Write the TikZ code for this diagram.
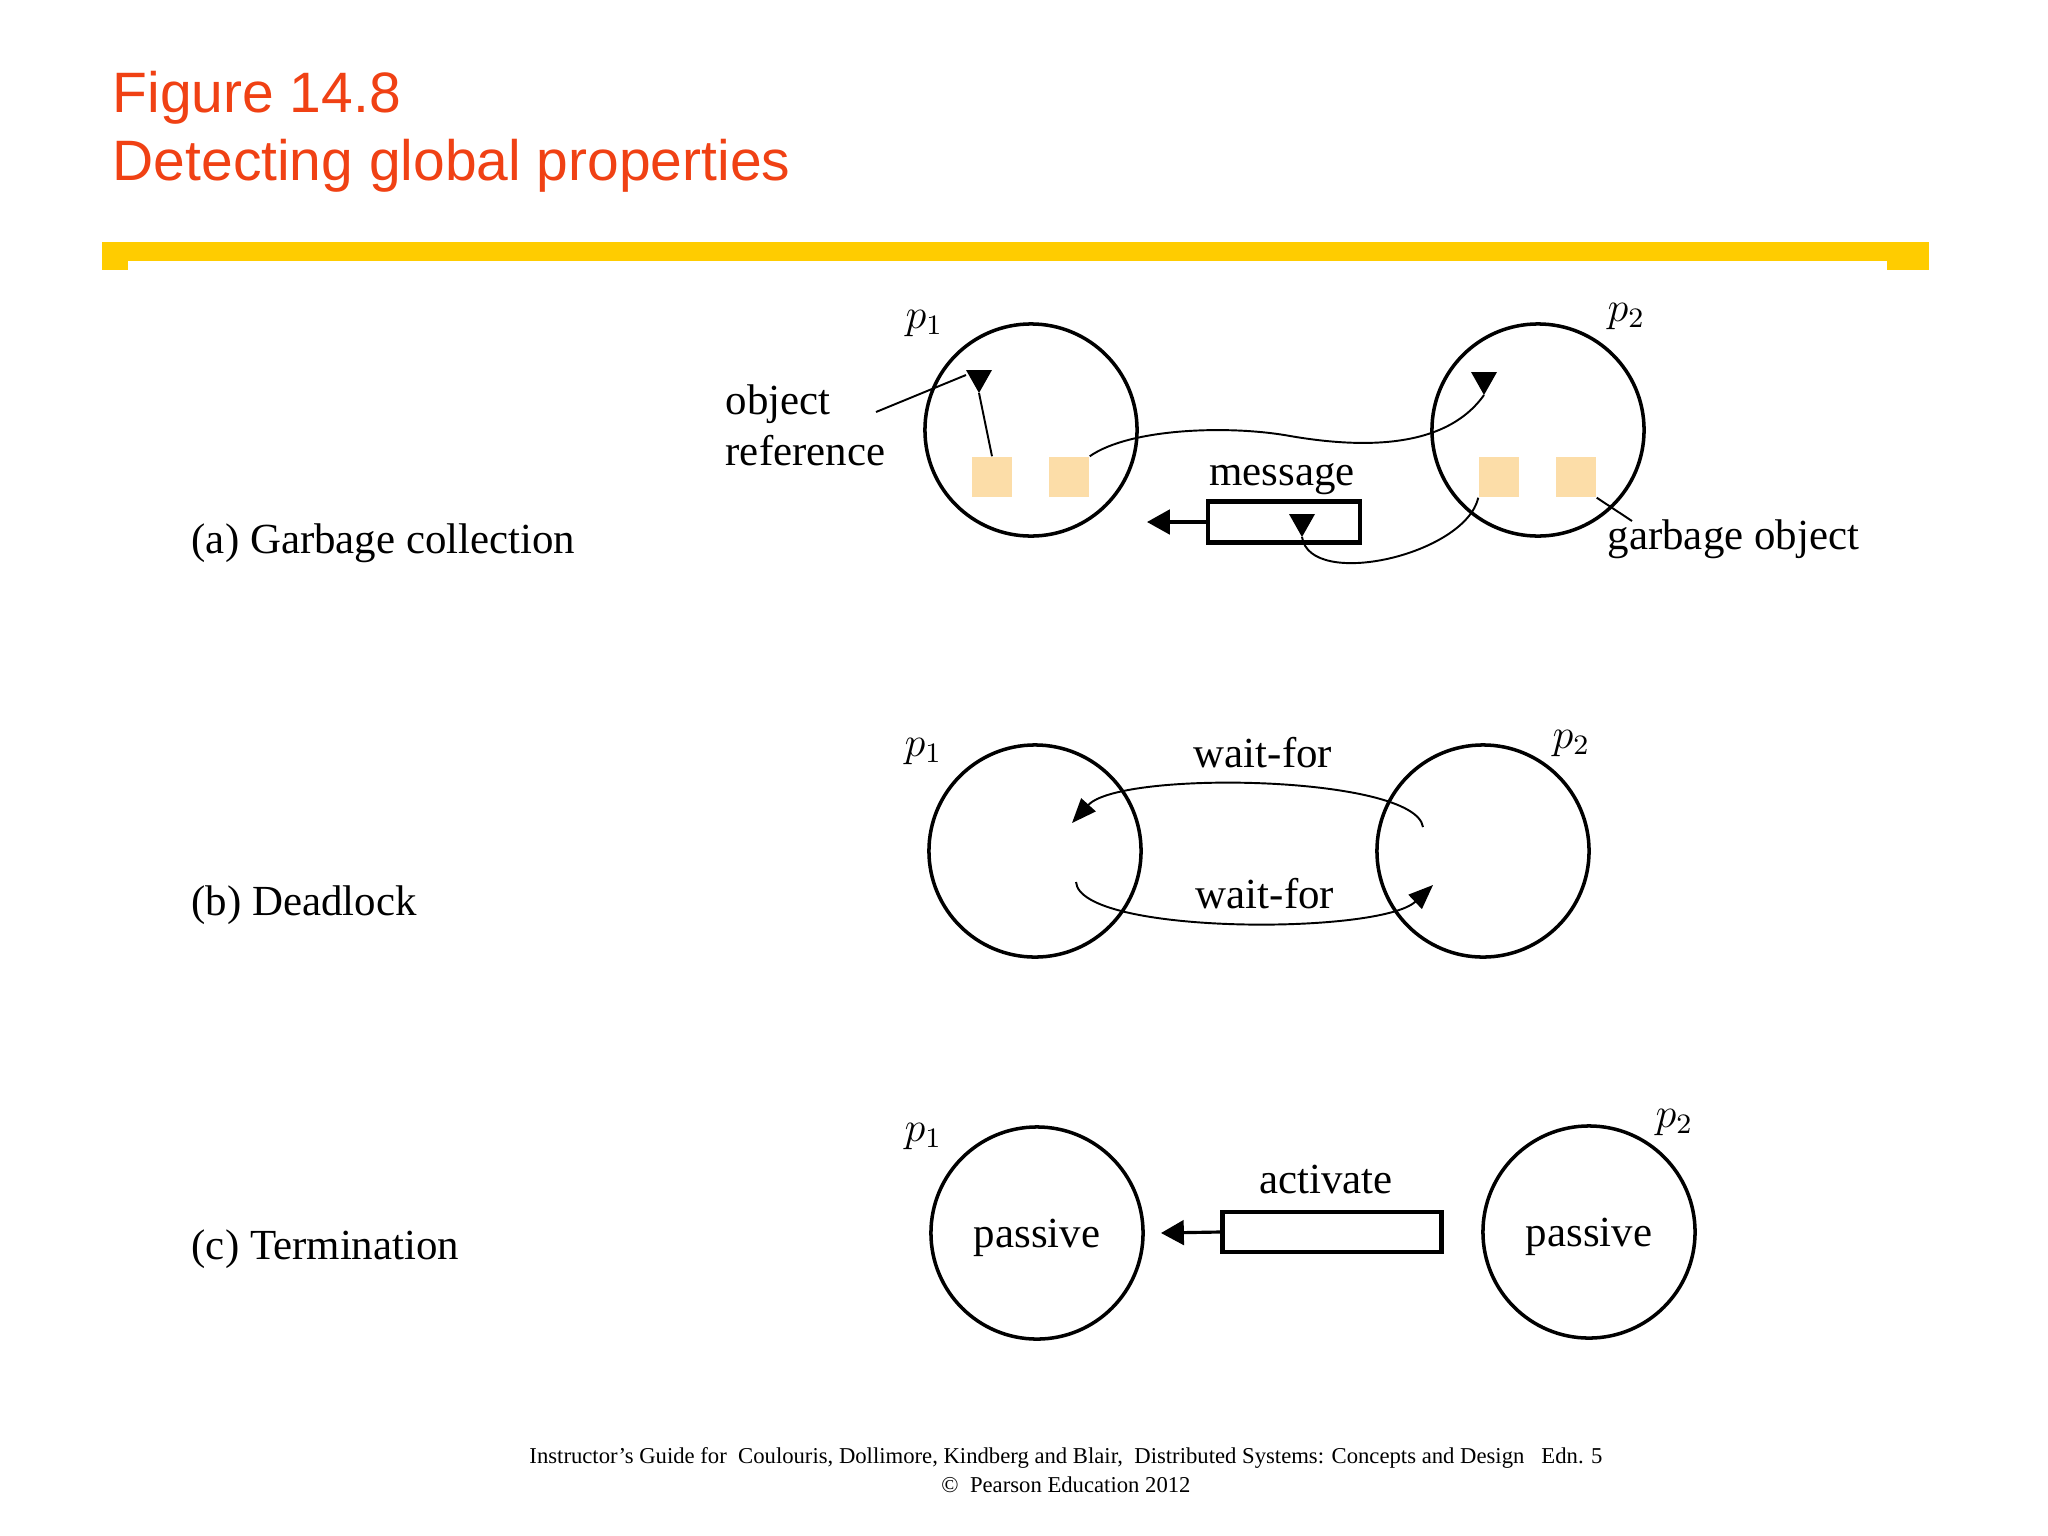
\documentclass[tikz,border=0pt]{standalone}
\usepackage{fontspec}
\setmainfont{Liberation Serif}
\newfontfamily\headfont{Liberation Sans}
\usetikzlibrary{arrows.meta}
\definecolor{titlered}{RGB}{240,65,20}
\definecolor{baryellow}{RGB}{255,204,0}
\definecolor{objfill}{RGB}{252,221,168}
\tikzset{
  process/.style={circle,draw,line width=1pt,minimum size=2.12cm,inner sep=0pt,text depth=0pt,font=\fontsize{12.2}{14.5}\selectfont},
  obj/.style={fill=objfill,minimum size=0.4cm,inner sep=0pt},
  msgbox/.style={draw,line width=1.2pt,minimum height=0.41cm,inner sep=0pt},
  lbl/.style={inner sep=0pt,font=\fontsize{12.2}{14.5}\selectfont},
  plbl/.style={inner sep=0pt,anchor=base west,font=\fontsize{11.5}{13}\selectfont},
  link/.style={line width=0.55pt},
  send/.style={-{Triangle[length=6.5pt,width=7pt]},line width=0.9pt},
  waitfor/.style={-{Triangle[length=7pt,width=5.5pt]},line width=0.55pt},
  reftip/.pic={\fill (-13,-23) -- (13,-23) -- (0,0) -- cycle;}
}

\begin{document}
\begin{tikzpicture}[x=0.01cm,y=-0.01cm]
\fill[white] (0,0) rectangle (2048,1536);
\useasboundingbox (0,0) rectangle (2048,1536);
% heading and bar
\node[anchor=base west,inner sep=0pt,align=left,text=titlered,font=\headfont\fontsize{16.2}{19.3}\selectfont] (title) at (112,180) {Figure 14.8\\Detecting global properties};
\fill[baryellow] (102,242) rectangle (1929,261);
\fill[baryellow] (102,261) rectangle (128,270);
\fill[baryellow] (1887,261) rectangle (1929,270);

% (a) Garbage collection
\node[lbl,anchor=base west] (capa) at (191,553) {(a) Garbage collection};
\node[process] (pa1) at (1031,430) {};
\node[process] (pa2) at (1538,430) {};
\node[plbl] (pa1lbl) at (905,328) {$p_1$};
\node[plbl] (pa2lbl) at (1607,321) {$p_2$};
\node[obj] (oa1) at (992,477) {};
\node[obj] (oa2) at (1069,477) {};
\node[obj] (ob1) at (1499,477) {};
\node[obj] (ob2) at (1576,477) {};
\coordinate (refa) at (979,393);
\coordinate (refb) at (1484,395);
\coordinate (refm) at (1302,537);
\node[msgbox,minimum width=1.52cm] (msg) at (1284,522) {};
\node[lbl,anchor=base] (msglbl) at (1282,485) {message};
\pic at (refa) {reftip};
\pic at (refb) {reftip};
\pic at (refm) {reftip};
\draw[link] (oa1.north) -- (refa);
\draw[link] (oa2.north east) .. controls (1130,428) and (1230,425) .. (1290,436)
  .. controls (1360,448) and (1445,450) .. (refb);
\draw[link] (ob1.south west) .. controls (1465,555) and (1310,590) .. (refm);
\coordinate (msgtip) at (1147,522);
\draw[send] (msg.west) -- (msgtip);
% labels with leaders
\node[lbl,anchor=base west,align=left] (objref) at (725,465) {object\\reference};
\coordinate (objrefend) at (876,412);
\coordinate (refacorner) at (966,375);
\draw[link] (objrefend) -- (refacorner);
\node[lbl,anchor=base west] (garb) at (1607,549) {garbage object};
\coordinate (garbend) at (1632,521);
\draw[link] (ob2.south east) -- (garbend);

% (b) Deadlock
\node[lbl,anchor=base west] (capb) at (191,915) {(b) Deadlock};
\node[process] (pb1) at (1035,851) {};
\node[process] (pb2) at (1483,851) {};
\node[plbl] (pb1lbl) at (904,756) {$p_1$};
\node[plbl] (pb2lbl) at (1552,748) {$p_2$};
\coordinate (wa) at (1423,827);
\coordinate (wb) at (1072,823);
\coordinate (wc) at (1076,882);
\coordinate (wd) at (1433,885);
\draw[waitfor] (wa) .. controls (1415,775) and (1120,770) .. (wb);
\draw[waitfor] (wc) .. controls (1080,935) and (1380,935) .. (wd);
\node[lbl,anchor=base] (wtop) at (1263,767) {wait-for};
\node[lbl,anchor=base] (wbot) at (1265,908) {wait-for};

% (c) Termination
\node[lbl,anchor=base west] (capc) at (191,1259) {(c) Termination};
\node[process] (pc1) at (1037,1233) {passive};
\node[process] (pc2) at (1589,1232) {passive};
\node[plbl] (pc1lbl) at (904,1141) {$p_1$};
\node[plbl] (pc2lbl) at (1655,1127) {$p_2$};
\node[msgbox,minimum width=2.19cm,minimum height=0.40cm] (act) at (1332,1232) {};
\node[lbl,anchor=base] (actlbl) at (1326,1193) {activate};
\coordinate (acttip) at (1161,1233);
\draw[send] (act.west) -- (acttip);

% footer
\node[anchor=base,inner sep=0pt,font=\fontsize{6.45}{7.7}\selectfont] (foot1) at (1066,1463) {Instructor’s Guide for\ \ Coulouris, Dollimore, Kindberg and Blair,\ \ Distributed Systems: Concepts and Design\ \ \ Edn. 5};
\node[anchor=base,inner sep=0pt,font=\fontsize{6.45}{7.7}\selectfont] (foot2) at (1066,1492) {©\ \ Pearson Education 2012};
\end{tikzpicture}
\end{document}
